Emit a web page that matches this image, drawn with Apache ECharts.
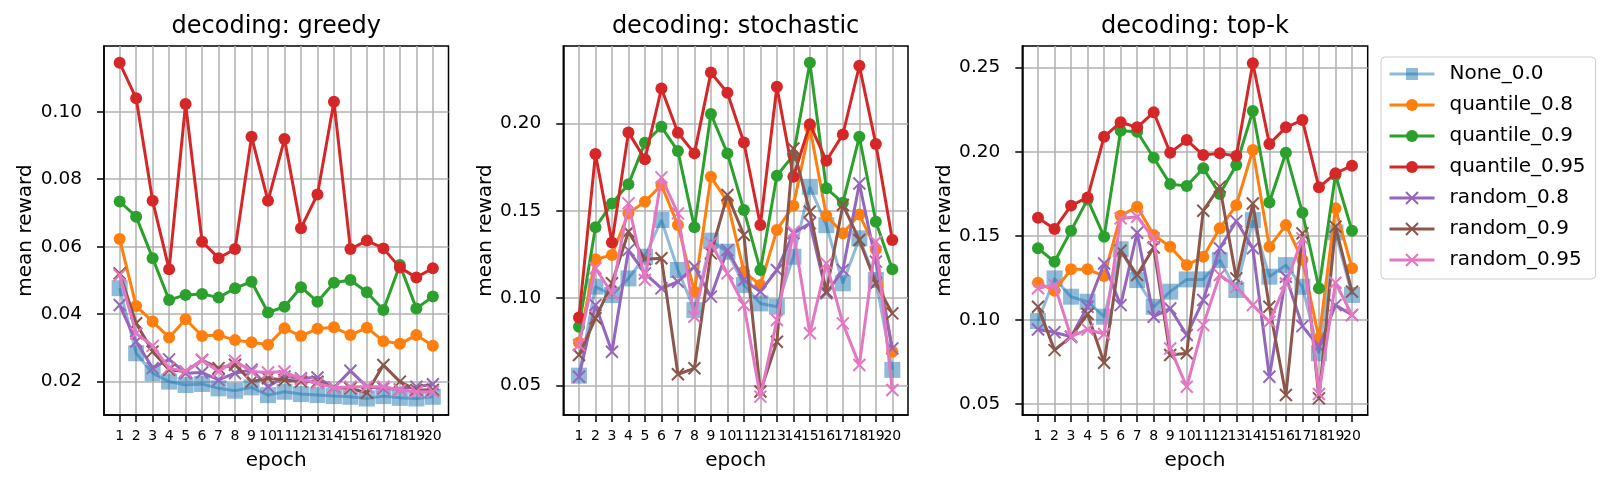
<!DOCTYPE html>
<html>
<head>
<meta charset="utf-8">
<title>mean reward per epoch</title>
<script src="https://cdn.jsdelivr.net/npm/echarts@6/dist/echarts.min.js"></script>
<style>
  html, body { margin: 0; padding: 0; background: #fff; }
  #main { width: 1613px; height: 488px; }
</style>
</head>
<body>
<div id="main"></div>
<script>
const epochs = [1, 2, 3, 4, 5, 6, 7, 8, 9, 10, 11, 12, 13, 14, 15, 16, 17, 18, 19, 20];
const names = ['None_0.0', 'quantile_0.8', 'quantile_0.9', 'quantile_0.95', 'random_0.8', 'random_0.9', 'random_0.95'];
const panelTitles = ['decoding: greedy', 'decoding: stochastic', 'decoding: top-k'];
const greedyTicks = [0.02, 0.04, 0.06, 0.08, 0.10];
const stochasticTicks = [0.05, 0.10, 0.15, 0.20];
const topkTicks = [0.05, 0.10, 0.15, 0.20, 0.25];

// decoding: greedy
const greedyNone = [0.0477, 0.0284, 0.0225, 0.0200, 0.0190, 0.0193, 0.0180, 0.0173, 0.0183, 0.0160, 0.0170, 0.0163, 0.0160, 0.0157, 0.0155, 0.0150, 0.0157, 0.0152, 0.0150, 0.0155];
const greedyQ08 = [0.0623, 0.0424, 0.0378, 0.0331, 0.0385, 0.0335, 0.0338, 0.0323, 0.0317, 0.0309, 0.0358, 0.0335, 0.0357, 0.0361, 0.0338, 0.0360, 0.0320, 0.0312, 0.0338, 0.0306];
const greedyQ09 = [0.0734, 0.0689, 0.0566, 0.0442, 0.0457, 0.0460, 0.0449, 0.0477, 0.0496, 0.0405, 0.0422, 0.0480, 0.0437, 0.0493, 0.0501, 0.0465, 0.0412, 0.0546, 0.0417, 0.0452];
const greedyQ095 = [0.1145, 0.1040, 0.0736, 0.0533, 0.1023, 0.0615, 0.0566, 0.0593, 0.0926, 0.0736, 0.0919, 0.0655, 0.0755, 0.1030, 0.0593, 0.0618, 0.0595, 0.0538, 0.0509, 0.0536];
const greedyR08 = [0.0427, 0.0319, 0.0240, 0.0266, 0.0225, 0.0227, 0.0205, 0.0225, 0.0235, 0.0185, 0.0215, 0.0210, 0.0212, 0.0182, 0.0232, 0.0185, 0.0180, 0.0177, 0.0185, 0.0192];
const greedyR09 = [0.0521, 0.0373, 0.0289, 0.0235, 0.0230, 0.0264, 0.0240, 0.0250, 0.0200, 0.0210, 0.0205, 0.0200, 0.0200, 0.0183, 0.0180, 0.0167, 0.0249, 0.0200, 0.0175, 0.0175];
const greedyR095 = [0.0516, 0.0343, 0.0306, 0.0240, 0.0230, 0.0264, 0.0230, 0.0262, 0.0230, 0.0227, 0.0230, 0.0207, 0.0195, 0.0182, 0.0185, 0.0185, 0.0185, 0.0175, 0.0170, 0.0170];

// decoding: stochastic
const stochNone = [0.0557, 0.1066, 0.1018, 0.1113, 0.1237, 0.1447, 0.1161, 0.0932, 0.1329, 0.1266, 0.1075, 0.0970, 0.0951, 0.1237, 0.1637, 0.1418, 0.1085, 0.1342, 0.1104, 0.0590];
const stochQ08 = [0.0746, 0.1222, 0.1247, 0.1485, 0.1552, 0.1647, 0.1418, 0.1037, 0.1694, 0.1552, 0.1152, 0.1075, 0.1390, 0.1529, 0.1976, 0.1472, 0.1371, 0.1479, 0.1279, 0.0694];
const stochQ09 = [0.0837, 0.1405, 0.1542, 0.1651, 0.1889, 0.1980, 0.1841, 0.1405, 0.2053, 0.1828, 0.1504, 0.1161, 0.1700, 0.1818, 0.2346, 0.1628, 0.1546, 0.1923, 0.1437, 0.1165];
const stochQ095 = [0.0890, 0.1824, 0.1319, 0.1948, 0.1795, 0.2199, 0.1946, 0.1828, 0.2290, 0.2175, 0.1890, 0.1418, 0.2209, 0.1694, 0.1994, 0.1786, 0.1936, 0.2329, 0.1881, 0.1333];
const stochR08 = [0.0551, 0.0961, 0.0694, 0.1275, 0.1142, 0.1056, 0.1094, 0.1180, 0.1009, 0.1275, 0.1104, 0.1037, 0.1161, 0.1371, 0.1428, 0.1028, 0.1161, 0.1656, 0.1209, 0.0713];
const stochR09 = [0.0675, 0.0885, 0.1085, 0.1380, 0.1222, 0.1228, 0.0565, 0.0599, 0.1256, 0.1590, 0.1361, 0.0466, 0.0751, 0.1856, 0.1494, 0.1037, 0.1533, 0.1333, 0.1085, 0.0913];
const stochR095 = [0.0732, 0.1171, 0.1028, 0.1542, 0.1104, 0.1691, 0.1485, 0.0894, 0.1315, 0.1142, 0.0961, 0.0437, 0.0875, 0.1380, 0.0799, 0.1199, 0.0856, 0.0618, 0.1323, 0.0475];

// decoding: top-k
const topkNone = [0.0992, 0.1246, 0.1137, 0.1107, 0.1018, 0.1419, 0.1236, 0.1077, 0.1167, 0.1240, 0.1240, 0.1355, 0.1177, 0.1593, 0.1256, 0.1325, 0.1196, 0.0800, 0.1520, 0.1147];
const topkQ08 = [0.1220, 0.1173, 0.1300, 0.1300, 0.1260, 0.1619, 0.1673, 0.1504, 0.1434, 0.1325, 0.1375, 0.1544, 0.1682, 0.2010, 0.1434, 0.1563, 0.1355, 0.0889, 0.1663, 0.1306];
const topkQ09 = [0.1425, 0.1345, 0.1530, 0.1716, 0.1494, 0.2125, 0.2119, 0.1964, 0.1807, 0.1796, 0.1901, 0.1748, 0.1921, 0.2242, 0.1698, 0.1994, 0.1637, 0.1187, 0.1861, 0.1530];
const topkQ095 = [0.1607, 0.1540, 0.1679, 0.1728, 0.2089, 0.2175, 0.2145, 0.2234, 0.1994, 0.2069, 0.1980, 0.1990, 0.1974, 0.2526, 0.2046, 0.2145, 0.2188, 0.1788, 0.1871, 0.1917];
const topkR08 = [0.0942, 0.0925, 0.0899, 0.1077, 0.1335, 0.1087, 0.1518, 0.1018, 0.1067, 0.0909, 0.1117, 0.1425, 0.1587, 0.1425, 0.0661, 0.1256, 0.0962, 0.0839, 0.1087, 0.1028];
const topkR09 = [0.1077, 0.0819, 0.0899, 0.1034, 0.0744, 0.1411, 0.1266, 0.1430, 0.0790, 0.0800, 0.1649, 0.1792, 0.1246, 0.1692, 0.1077, 0.0552, 0.1514, 0.0532, 0.1554, 0.1167];
const topkR095 = [0.1187, 0.1206, 0.0899, 0.0942, 0.0915, 0.1603, 0.1613, 0.1484, 0.0829, 0.0601, 0.0968, 0.1266, 0.1196, 0.1087, 0.0988, 0.1216, 0.1484, 0.0558, 0.1220, 0.1028];

const panelData = [
  [greedyNone, greedyQ08, greedyQ09, greedyQ095, greedyR08, greedyR09, greedyR095],
  [stochNone, stochQ08, stochQ09, stochQ095, stochR08, stochR09, stochR095],
  [topkNone, topkQ08, topkQ09, topkQ095, topkR08, topkR09, topkR095]
];
const panelTicks = [greedyTicks, stochasticTicks, topkTicks];

// matplotlib tab10
const colors = ['#1f77b4', '#ff7f0e', '#2ca02c', '#d62728', '#9467bd', '#8c564b', '#e377c2'];
const font = 'DejaVu Sans';
const xMark = 'path://M0,0L10,10M10,0L0,10';

// plot boxes (px) and y limits
const grids = [
  { left: 104, right: 1164.5, top: 46, bottom: 73 },
  { left: 563.3, right: 705, top: 46, bottom: 73 },
  { left: 1022.3, right: 245.3, top: 46, bottom: 73 }
];
const yLimits = [[0.0101, 0.1195], [0.0332, 0.2442], [0.0433, 0.2629]];
const titleCenters = [276.3, 735.6, 1195];

// epoch labels touch each other, so odd and even ones go on two stacked axes
// (otherwise echarts drops the one next to the last label)
const oddEpochs = epochs.filter(e => e % 2 === 1);
const evenEpochs = epochs.filter(e => e % 2 === 0);

var chart = echarts.init(document.getElementById('main'), null, { renderer: 'canvas' });

function makeSeries(panel, k) {
  const color = colors[k];
  const s = {
    name: names[k],
    type: 'line',
    xAxisIndex: panel,
    yAxisIndex: panel,
    data: panelData[panel][k].map((v, i) => [epochs[i], v]),
    symbol: 'circle',
    symbolSize: 12,
    showSymbol: true,
    lineStyle: { color: color, width: 3 },
    itemStyle: { color: color, borderWidth: 0 },
    silent: true,
    z: 2 + k
  };
  if (k === 0) {
    s.symbol = 'rect';
    s.symbolSize = 16;
    s.lineStyle.opacity = 0.5;
    s.itemStyle.opacity = 0.5;
  } else if (k >= 4) {
    s.symbol = xMark;
    s.itemStyle = { color: color, borderColor: color, borderWidth: 2 };
  }
  return s;
}

const series = [];
for (let p = 0; p < 3; p++) {
  for (let k = 0; k < names.length; k++) {
    series.push(makeSeries(p, k));
  }
}

const xLabelStyle = { fontFamily: font, fontSize: 14, color: '#000', margin: 14, showMinLabel: true, showMaxLabel: true };

// main x axes (0..2) carry ticks, grid lines, odd labels and the name
const xMain = grids.map((g, i) => ({
  type: 'value',
  gridIndex: i,
  position: 'bottom',
  min: 0.05,
  max: 20.95,
  name: 'epoch',
  nameLocation: 'middle',
  nameGap: 36,
  nameTextStyle: { fontFamily: font, fontSize: 20, color: '#000' },
  axisLine: { show: true, onZero: false, lineStyle: { color: '#000', width: 1.5 } },
  axisTick: { show: true, length: 7, customValues: epochs, lineStyle: { color: '#000', width: 1.5 } },
  axisLabel: Object.assign({ customValues: oddEpochs }, xLabelStyle),
  splitLine: { show: true, lineStyle: { color: '#b0b0b0', width: 1.5 } }
}));
// second x axes (3..5) only hold the even labels
const xEven = grids.map((g, i) => ({
  type: 'value',
  gridIndex: i,
  position: 'bottom',
  offset: 0,
  min: 0.05,
  max: 20.95,
  axisLine: { show: false, onZero: false },
  axisTick: { show: false },
  axisLabel: Object.assign({ customValues: evenEpochs }, xLabelStyle),
  splitLine: { show: false }
}));

chart.setOption({
  animation: false,
  backgroundColor: '#fff',
  textStyle: { fontFamily: font },
  title: panelTitles.map((t, i) => ({
    text: t,
    left: titleCenters[i],
    top: 15,
    padding: 0,
    textAlign: 'center',
    textStyle: { fontFamily: font, fontSize: 24, fontWeight: 'normal', color: '#000' }
  })),
  grid: grids.map(g => Object.assign({
    show: true,
    borderColor: '#000',
    borderWidth: 1.5,
    containLabel: false,
    outerBoundsMode: 'none'
  }, g)),
  xAxis: xMain.concat(xEven),
  yAxis: grids.map((g, i) => ({
    type: 'value',
    gridIndex: i,
    min: yLimits[i][0],
    max: yLimits[i][1],
    name: 'mean reward',
    nameLocation: 'middle',
    nameGap: 68,
    nameTextStyle: { fontFamily: font, fontSize: 20, color: '#000' },
    axisLine: { show: true, onZero: false, lineStyle: { color: '#000', width: 1.5 } },
    axisTick: { show: true, length: 7, customValues: panelTicks[i], lineStyle: { color: '#000', width: 1.5 } },
    axisLabel: {
      customValues: panelTicks[i], showMinLabel: true, showMaxLabel: true,
      fontFamily: font, fontSize: 18.5, color: '#000', margin: 22,
      formatter: v => v.toFixed(2)
    },
    splitLine: { show: true, lineStyle: { color: '#b0b0b0', width: 1.5 } }
  })),
  legend: {
    data: names,
    orient: 'vertical',
    left: 1381,
    top: 57,
    padding: [7, 10, 9, 7],
    itemWidth: 45,
    itemHeight: 15,
    itemGap: 11,
    backgroundColor: '#fff',
    borderColor: '#cccccc',
    borderWidth: 1,
    borderRadius: 4,
    selectedMode: false,
    lineStyle: { width: 3 },
    textStyle: { fontFamily: font, fontSize: 20, color: '#000', padding: [0, 0, 0, 10] }
  },
  series: series
});
</script>
</body>
</html>
